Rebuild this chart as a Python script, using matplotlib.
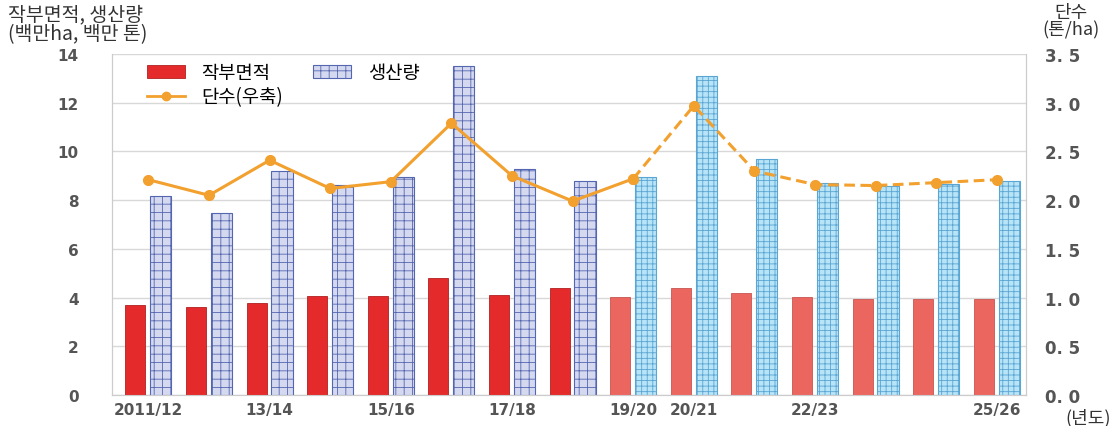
import numpy as np
import matplotlib
matplotlib.use("Agg")
import matplotlib.pyplot as plt
from matplotlib.patches import Patch
from matplotlib.lines import Line2D

plt.rcParams['font.family'] = ['Noto Sans CJK KR', 'DejaVu Sans']
plt.rcParams['hatch.linewidth'] = 0.6

years = ["2011/12", "12/13", "13/14", "14/15", "15/16", "16/17", "17/18", "18/19",
         "19/20", "20/21", "21/22", "22/23", "23/24", "24/25", "25/26"]
area = [3.70, 3.62, 3.79, 4.07, 4.07, 4.81, 4.10, 4.40,
        4.03, 4.40, 4.20, 4.03, 3.95, 3.95, 3.95]
production = [8.19, 7.49, 9.18, 8.64, 8.97, 13.5, 9.26, 8.80,
              8.97, 13.1, 9.67, 8.72, 8.60, 8.68, 8.77]
yield_ = [2.21, 2.05, 2.41, 2.12, 2.19, 2.79, 2.25, 1.99,
          2.22, 2.97, 2.30, 2.16, 2.15, 2.18, 2.21]
shown_labels = {"2011/12", "13/14", "15/16", "17/18", "19/20", "20/21", "22/23", "25/26"}
n_actual = 8  # first forecast season index

x = np.arange(len(years))
fig = plt.figure(figsize=(11.18, 4.27), dpi=100)
ax = fig.add_axes([0.1002, 0.0726, 0.8175, 0.7985])
ax2 = ax.twinx()

gray = "#555555"
red_dark, red_light = "#e42a2a", "#ec6660"
for i in x:
    past = i < n_actual
    ax.bar(i - 0.215, area[i], width=0.33,
           color=red_dark if past else red_light,
           edgecolor="#b02020" if past else "#c85450", linewidth=0.6, zorder=3)
    ax.bar(i + 0.205, production[i], width=0.35,
           color="#d4d9f0" if past else "#b8e4f8",
           edgecolor="#5566b0" if past else "#5aa5d2",
           hatch="++" if past else "+++", linewidth=0.8, zorder=3)

orange = "#f2a02e"
ax2.plot(x[:n_actual + 1], yield_[:n_actual + 1], color=orange, lw=2.2,
         marker="o", ms=7, zorder=4)
ax2.plot(x[n_actual:], yield_[n_actual:], color=orange, lw=2.2, ls=(0, (3.5, 1.8)),
         marker="o", ms=7, zorder=4)

ax.set_xlim(-0.6, 14.48)
ax.set_ylim(0, 14)
ax2.set_ylim(0, 3.5)
ax.set_yticks(range(0, 15, 2))
ax.set_yticklabels([str(v) for v in range(0, 15, 2)], fontsize=11, color=gray,
                   fontweight="bold", family="DejaVu Sans")
ax2.set_yticks(np.arange(0, 3.51, 0.5))
ax2.set_yticklabels(["%d. %d" % (int(v), round((v % 1) * 10)) for v in np.arange(0, 3.51, 0.5)],
                    fontsize=12, color=gray, fontweight="bold", family="DejaVu Sans")
ax.set_xticks(x)
ax.set_xticklabels([y if y in shown_labels else "" for y in years], fontsize=11,
                   color=gray, fontweight="bold", family="DejaVu Sans")
ax.tick_params(axis="x", length=0, pad=5)
ax.tick_params(axis="y", length=0, pad=24)
ax2.tick_params(axis="y", length=0, pad=14)

ax.grid(axis="y", color="#d8d8d8", lw=1, zorder=0)
ax.set_axisbelow(True)
for a in (ax, ax2):
    a.spines["top"].set_visible(False)
    for s in ("left", "right", "bottom"):
        a.spines[s].set_color("#cccccc")

fig.text(0.007, 0.99, "작부면적, 생산량\n(백만ha, 백만 톤)", fontsize=14, va="top",
         ha="left", color="#333333", linespacing=0.95)
fig.text(0.958, 0.99, "단수\n(톤/ha)", fontsize=13, va="top", ha="center",
         color="#333333", linespacing=0.95)
fig.text(0.973, 0.0, "(년도)", fontsize=13, va="bottom", ha="center", color="#333333")

handles = [Patch(facecolor=red_dark, edgecolor="#b02020", lw=0.6),
           Line2D([], [], color=orange, lw=2, marker="o", ms=6),
           Patch(facecolor="#d4d9f0", edgecolor="#5566b0", hatch="++", lw=0.8)]
labels = ["작부면적", "단수(우축)", "생산량"]
ax.legend(handles, labels, ncol=2, loc="upper left", bbox_to_anchor=(0.02, 1.025),
          frameon=False, fontsize=13.5, handlelength=2.0, columnspacing=1.6,
          labelspacing=0.15, handletextpad=0.9)

fig.savefig("out.png", dpi=100)
